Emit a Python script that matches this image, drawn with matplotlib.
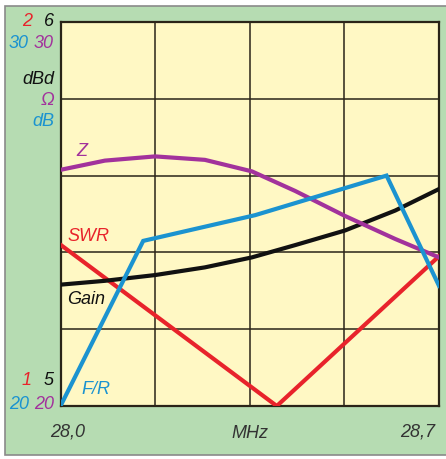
import matplotlib.pyplot as plt
from matplotlib.patches import Rectangle

plt.rcParams['font.family'] = ['Liberation Sans', 'DejaVu Sans']

# ---------- data ----------
freq_swr = [28.0, 28.40, 28.70]
swr = [1.42, 1.0, 1.39]

freq_curve = [28.0, 28.082, 28.175, 28.267, 28.354, 28.434, 28.526, 28.619, 28.7]
gain = [5.316, 5.326, 5.341, 5.361, 5.387, 5.419, 5.457, 5.509, 5.565]
z_ohm = [26.15, 26.39, 26.50, 26.41, 26.11, 25.60, 24.95, 24.35, 23.87]

freq_fr = [28.0, 28.153, 28.36, 28.603, 28.7]
f_r = [20.0, 24.30, 24.97, 26.0, 23.13]

x_ticks = [28.0, 28.175, 28.35, 28.525, 28.7]

RED = '#e8232b'
BLACK = '#111111'
PURPLE = '#a2329c'
BLUE = '#1b93d0'
GREEN = '#b6dcb2'
YELLOW = '#fff8c4'

W, H = 446, 460
fig = plt.figure(figsize=(W / 100, H / 100), dpi=100)
fig.patch.set_facecolor('white')

# green frame
fig.patches.append(Rectangle((5 / W, 1 - 456 / H), 1.2, (456 - 7) / H,
                             transform=fig.transFigure, facecolor=GREEN,
                             edgecolor='#8a8a8a', linewidth=1.2, zorder=-10))

rect = [60.5 / W, 1 - 407 / H, (439 - 60.5) / W, (407 - 23) / H]
ax = fig.add_axes(rect)
ax.set_facecolor(YELLOW)
ax.set_xlim(28.0, 28.7)
ax.set_ylim(1, 2)
ax.set_xticks(x_ticks)
ax.set_yticks([1.0, 1.2, 1.4, 1.6, 1.8, 2.0])
ax.grid(True, color='#2a2418', linewidth=1.1)
ax.tick_params(length=0, labelbottom=False, labelleft=False)
for s in ax.spines.values():
    s.set_color('#2a2418')
    s.set_linewidth(1.6)

lw = 3.0
ax.plot(freq_swr, swr, color=RED, lw=lw, solid_joinstyle='miter', zorder=3)

def overlay(lo, hi):
    a = fig.add_axes(rect, sharex=ax)
    a.set_ylim(lo, hi)
    a.patch.set_visible(False)
    a.axis('off')
    return a

ax_g = overlay(5, 6)
ax_g.plot(freq_curve, gain, color=BLACK, lw=lw, zorder=3)

ax_z = overlay(20, 30)
ax_z.plot(freq_curve, z_ohm, color=PURPLE, lw=lw, zorder=3)

ax_f = overlay(20, 30)
ax_f.plot(freq_fr, f_r, color=BLUE, lw=lw, solid_joinstyle='miter', zorder=3)

# curve labels
fs = 13
kw = dict(transform=fig.transFigure, style='italic', fontsize=fs)
def ft(x, y, s, color, ha='left', **k):
    fig.text(x / W, 1 - y / H, s, color=color, ha=ha, va='center', **kw, **k)

ft(67, 237, 'SWR', RED)
ft(76, 152, 'Z', PURPLE)
ft(67, 300, 'Gain', BLACK)
ft(81, 390, 'F/R', BLUE)

# left scale labels
ft(32, 22, '2', RED, ha='right')
ft(54, 22, '6', BLACK, ha='right')
ft(29, 43, '30', BLUE, ha='right')
ft(54, 43, '30', PURPLE, ha='right')
ft(54, 80, 'dBd', BLACK, ha='right')
ft(54, 101, 'Ω', PURPLE, ha='right')
ft(54, 122, 'dB', BLUE, ha='right')
ft(32, 381, '1', RED, ha='right')
ft(54, 381, '5', BLACK, ha='right')
ft(29, 405, '20', BLUE, ha='right')
ft(54, 405, '20', PURPLE, ha='right')

# x labels
ft(68, 432, '28,0', '#333333', ha='center')
ft(250, 434, 'MHz', '#333333', ha='center')
ft(418, 432, '28,7', '#333333', ha='center')

fig.savefig('out.png', dpi=100)
